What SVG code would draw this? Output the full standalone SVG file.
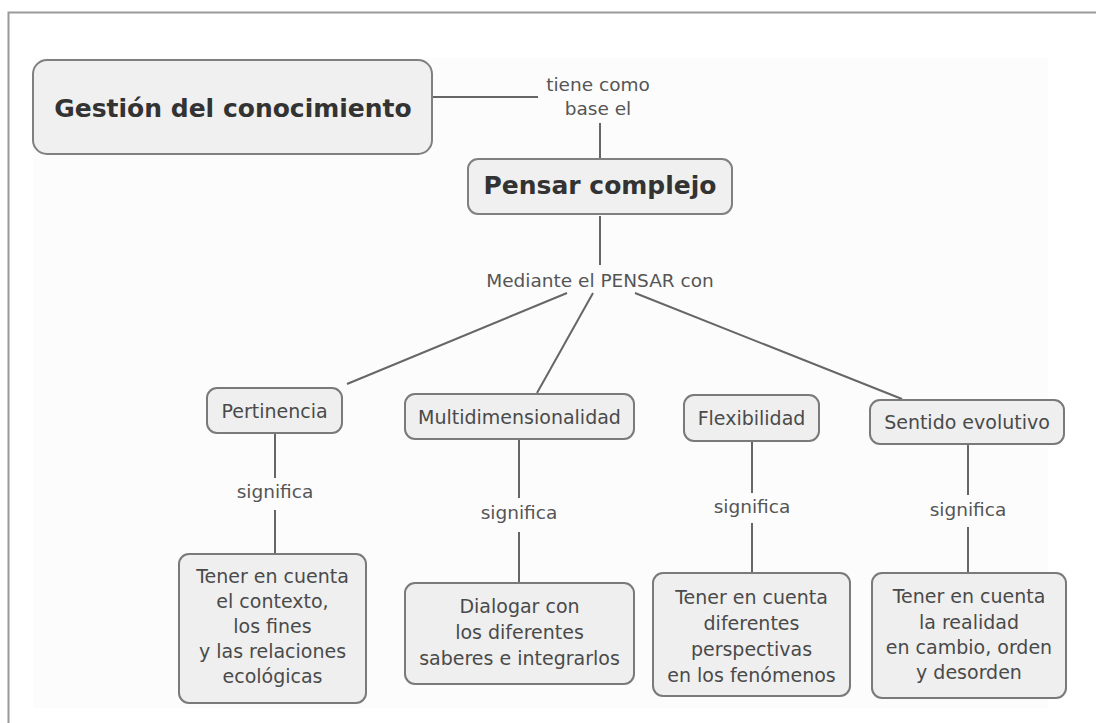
<svg xmlns="http://www.w3.org/2000/svg" width="1096" height="723" viewBox="0 0 1096 723">
<style>
text{font-family:"DejaVu Sans","Noto Sans",sans-serif;text-anchor:middle}
.big{font-weight:bold;font-size:25px;fill:#333}
.lbl{font-size:18.5px;fill:#555}
.nt{font-size:19px;fill:#4a4a4a}
.box{fill:#efefef;stroke:#7a7a7a;stroke-width:2}
.bigbox{fill:#f0f0f0;stroke:#808080;stroke-width:2}
#connectors line{stroke:#666;stroke-width:2}
</style>
<rect width="1096" height="723" fill="#ffffff"/>
<path d="M8.5 723 V12.5 H1096" fill="none" stroke="#9a9a9a" stroke-width="2"/>
<rect x="33" y="58" width="1015" height="650" fill="#fcfcfc"/>
<g id="connectors">
<line x1="432" y1="97" x2="538" y2="97"/>
<line x1="600" y1="123" x2="600" y2="159"/>
<line x1="600" y1="216" x2="600" y2="265"/>
<line x1="567" y1="293" x2="347" y2="384"/>
<line x1="593" y1="293" x2="537" y2="393"/>
<line x1="635" y1="293" x2="902" y2="399"/>
<line x1="275" y1="434" x2="275" y2="478"/>
<line x1="275" y1="510" x2="275" y2="554"/>
<line x1="519" y1="440" x2="519" y2="498"/>
<line x1="519" y1="532" x2="519" y2="583"/>
<line x1="752" y1="442" x2="752" y2="493"/>
<line x1="752" y1="523" x2="752" y2="573"/>
<line x1="968" y1="445" x2="968" y2="495"/>
<line x1="968" y1="527" x2="968" y2="573"/>
</g>
<g id="lbl-tiene"><text class="lbl" x="598" y="91">tiene como</text><text class="lbl" x="598" y="115">base el</text></g>
<g id="lbl-mediante"><text class="lbl" x="600" y="287">Mediante el PENSAR con</text></g>
<g id="lbl-sig1"><text class="lbl" x="275" y="498">significa</text></g>
<g id="lbl-sig2"><text class="lbl" x="519" y="519">significa</text></g>
<g id="lbl-sig3"><text class="lbl" x="752" y="513">significa</text></g>
<g id="lbl-sig4"><text class="lbl" x="968" y="516">significa</text></g>
<g id="n-gestion"><rect class="bigbox" x="33" y="60" width="399" height="94" rx="14"/><text class="big" x="233" y="117">Gestión del conocimiento</text></g>
<g id="n-pensar"><rect class="bigbox" x="468" y="159" width="264" height="55" rx="10"/><text class="big" x="600" y="194">Pensar complejo</text></g>
<g id="n-pertinencia"><rect class="box" x="207" y="388" width="135" height="45" rx="10"/><text class="nt" x="274.5" y="418">Pertinencia</text></g>
<g id="n-multi"><rect class="box" x="405" y="394" width="229" height="45" rx="10"/><text class="nt" x="519.5" y="424">Multidimensionalidad</text></g>
<g id="n-flex"><rect class="box" x="684" y="395" width="135" height="46" rx="10"/><text class="nt" x="751.5" y="425">Flexibilidad</text></g>
<g id="n-sentido"><rect class="box" x="870" y="400" width="194" height="44" rx="10"/><text class="nt" x="967" y="429">Sentido evolutivo</text></g>
<g id="n-d1"><rect class="box" x="179" y="554" width="187" height="149" rx="10"/>
<text class="nt" x="272.5" y="583">Tener en cuenta</text><text class="nt" x="272.5" y="608">el contexto,</text><text class="nt" x="272.5" y="633">los fines</text><text class="nt" x="272.5" y="658">y las relaciones</text><text class="nt" x="272.5" y="683">ecológicas</text></g>
<g id="n-d2"><rect class="box" x="405" y="583" width="229" height="101" rx="10"/>
<text class="nt" x="519.5" y="613">Dialogar con</text><text class="nt" x="519.5" y="639">los diferentes</text><text class="nt" x="519.5" y="665">saberes e integrarlos</text></g>
<g id="n-d3"><rect class="box" x="653" y="573" width="197" height="123" rx="10"/>
<text class="nt" x="751.5" y="604">Tener en cuenta</text><text class="nt" x="751.5" y="630">diferentes</text><text class="nt" x="751.5" y="656">perspectivas</text><text class="nt" x="751.5" y="682">en los fenómenos</text></g>
<g id="n-d4"><rect class="box" x="872" y="573" width="194" height="125" rx="10"/>
<text class="nt" x="969" y="603">Tener en cuenta</text><text class="nt" x="969" y="629">la realidad</text><text class="nt" x="969" y="654">en cambio, orden</text><text class="nt" x="969" y="679">y desorden</text></g>
</svg>
